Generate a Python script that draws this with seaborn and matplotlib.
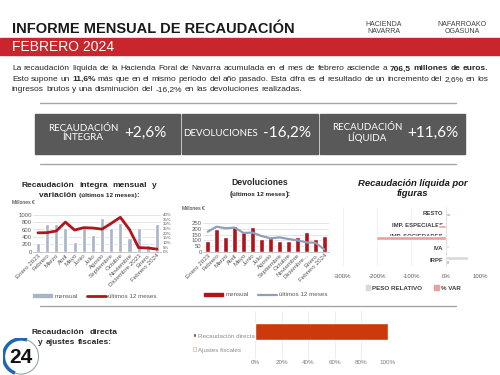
import numpy as np
import pandas as pd
import matplotlib
matplotlib.use("Agg")
import matplotlib.pyplot as plt
import seaborn as sns
from matplotlib.patches import Rectangle, Arc
from matplotlib.lines import Line2D
from matplotlib.ticker import FuncFormatter

meses = ["Enero 2023", "Febrero", "Marzo", "Abril", "Mayo", "Junio", "Julio", "Agosto",
         "Septiembre", "Octubre", "Noviembre", "Diciembre 2023", "Enero", "Febrero 2024"]
meses_devol = ["Enero 2023", "Febrero", "Marzo", "Abril", "Mayo", "Junio", "Julio", "Agosto",
               "Septiembre", "Octubre", "Noviembre", "Diciembre...", "Enero", "Febrero 2024"]
integra_mensual = [225, 745, 760, 630, 260, 655, 440, 900, 650, 780, 360, 630, 190, 760]
integra_var12 = [20.4, 20.6, 22.4, 32.0, 23.4, 26.0, 25.6, 24.4, 30.6, 37.2, 24.0, 4.4, 4.0, 2.8]
devol_mensual = [97, 197, 126, 229, 185, 220, 109, 120, 97, 91, 132, 176, 109, 138]
devol_12m = [176, 220, 206, 212, 165, 168, 138, 118, 126, 112, 100, 82, 79, 20]

figuras = ["RESTO", "IMP. ESPECIALES", "IMP. SOCIEDADES", "IVA", "IRPF"]
peso_relativo = [3, 3, 2, 10, 66]
var_figuras = [13, -21, -204, 1, 11]

componentes = ["Recaudación directa", "Ajustes fiscales"]
proporcion = [1.0, 0.0]

indicadores = ["RECAUDACIÓN\nÍNTEGRA", "DEVOLUCIONES", "RECAUDACIÓN\nLÍQUIDA"]
variaciones = ["+2,6%", "-16,2%", "+11,6%"]

# --- ESTILO ---
sns.set_theme(style="white")
plt.rcParams["font.family"] = ["Liberation Sans", "DejaVu Sans"]

rojo_banda = "#c8252c"
gris_caja = "#595959"
gris_texto = "#595959"
gris_barra = "#a9b4c8"
rojo_linea = "#b0151e"
rojo_barra = "#b3121a"
gris_linea = "#8ea0b8"
gris_peso = "#d9d9d9"
rosa_var = "#e8a0a0"
naranja = "#cc3a0c"

W, H = 500, 375
fig = plt.figure(figsize=(5, 3.75), dpi=100)
renderer = fig.canvas.get_renderer()


def fx(x):
    return x / W


def fy(y):
    return 1 - y / H


def caja(x0, y0, x1, y1):
    return [x0 / W, 1 - y1 / H, (x1 - x0) / W, (y1 - y0) / H]


def linea(y, trozos, x0, x1, size, color="#262626", justificar=True):
    # coloca palabra a palabra para poder justificar y mezclar negrita
    palabras = []
    for texto, negrita in trozos:
        for p in texto.split():
            palabras.append((p, negrita))
    objs = [fig.text(0, fy(y), p, fontsize=size, fontweight="bold" if n else "normal",
                     color=color, va="center", ha="left") for p, n in palabras]
    anchos = [t.get_window_extent(renderer).width for t in objs]
    natural = size * 100 / 72 * 0.28
    esp = (x1 - x0 - sum(anchos)) / max(len(objs) - 1, 1) if justificar else natural
    esp = max(esp, natural * 0.6)
    x = x0
    for t, a in zip(objs, anchos):
        t.set_x(fx(x))
        x += a + esp


def segmentos(y, partes, cx, color="#262626"):
    objs = [fig.text(0, fy(y), txt, fontsize=s, fontweight="bold", color=color,
                     va="baseline", ha="left") for txt, s in partes]
    anchos = [t.get_window_extent(renderer).width for t in objs]
    x = cx - sum(anchos) / 2
    for t, a in zip(objs, anchos):
        t.set_x(fx(x))
        x += a


# --- CABECERA ---
fig.text(fx(12), fy(29), "INFORME MENSUAL DE RECAUDACIÓN", fontsize=10.5,
         fontweight="bold", color="#1a1a1a", va="center")
fig.add_artist(Rectangle((0, fy(55)), 1, 17 / H, transform=fig.transFigure,
                         color=rojo_banda, zorder=0))
fig.text(fx(12), fy(47), "FEBRERO 2024", fontsize=10, color="white", va="center")
fig.text(fx(384), fy(28), "HACIENDA\nNAVARRA", fontsize=5, color="#404040",
         ha="center", va="center", linespacing=0.95)
fig.text(fx(462), fy(28), "NAFARROAKO\nOGASUNA", fontsize=5, color="#404040",
         ha="center", va="center", linespacing=0.95)

cuerpo = 6.0
linea(69, [("La recaudación líquida de la Hacienda Foral de Navarra acumulada en el mes de febrero asciende a", False),
           ("706,5 millones de euros.", True)], 12, 488, cuerpo)
linea(79.5, [("Esto supone un", False), ("11,6%", True),
             ("más que en el mismo periodo del año pasado. Esta cifra es el resultado de un incremento del 2,6% en los", False)],
      12, 488, cuerpo)
linea(89.5, [("ingresos brutos y una disminución del -16,2% en las devoluciones realizadas.", False)],
      12, 488, cuerpo, justificar=False)

for yr in [103, 164, 306]:
    fig.add_artist(Line2D([fx(40), fx(456)], [fy(yr)] * 2, color="#a6a6a6", lw=1.0))

# --- CAJAS DE INDICADORES ---
limites = [(35, 180), (182, 318), (320, 465)]
pos_rotulo = [83, 221, 367]
pos_valor = [145, 287, 433]
for (a, b), rot, val, xr, xv in zip(limites, indicadores, variaciones, pos_rotulo, pos_valor):
    fig.add_artist(Rectangle((fx(a), fy(154)), (b - a) / W, 40 / H,
                             transform=fig.transFigure, color=gris_caja))
    fig.text(fx(xr), fy(133), rot, fontsize=7, color="white", ha="center", va="center",
             family=["Lato", "DejaVu Sans"], linespacing=1.05)
    fig.text(fx(xv), fy(133), val, fontsize=11, color="white", ha="center", va="center",
             family=["Lato", "DejaVu Sans"])


def estilo_meses(ax, paso, tope):
    ax.set_ylim(0, tope)
    ax.set_yticks(np.arange(0, tope + 1, paso))
    ax.grid(axis="y", color="#d9d9d9", lw=0.5)
    for s in ["top", "right", "left"]:
        ax.spines[s].set_visible(False)
    ax.spines["bottom"].set_color("#bfbfbf")
    ax.spines["bottom"].set_linewidth(0.6)
    ax.tick_params(axis="both", length=0, pad=1, labelsize=4.3, labelcolor=gris_texto)
    ax.tick_params(axis="x", labelsize=4.5)
    for lbl in ax.get_xticklabels():
        lbl.set_rotation(45)
        lbl.set_ha("right")
        lbl.set_rotation_mode("anchor")
    ax.set_xlabel("")
    ax.set_ylabel("")
    ax.set_xlim(-0.5, len(meses) - 0.5)


# --- GRÁFICO 1: RECAUDACIÓN ÍNTEGRA ---
linea(185, [("Recaudación integra mensual y", True)], 21, 157, 6)
segmentos(197, [("variación ", 6), ("(últimos 12 meses)", 4.6), (":", 6)], 89)
fig.text(fx(12), fy(203), "Millones €", fontsize=3.6, color="#262626", va="center")

ax1 = fig.add_axes(caja(33.4, 214.7, 161.5, 251.7))
sns.barplot(x=meses, y=integra_mensual, ax=ax1, color=gris_barra, saturation=1, width=0.45)
estilo_meses(ax1, 200, 1000)
ax1b = ax1.twinx()
sns.lineplot(x=np.arange(len(meses)), y=integra_var12, ax=ax1b, color=rojo_linea, lw=2)
ax1b.set_ylim(0, 40)
ax1b.set_yticks(np.arange(0, 41, 5))
ax1b.yaxis.set_major_formatter(FuncFormatter(lambda v, _: f"{v:.0f}%"))
ax1b.tick_params(axis="y", length=0, pad=1, labelsize=3.2, labelcolor=gris_texto)
for s in ax1b.spines.values():
    s.set_visible(False)
ax1b.set_xlim(-0.5, len(meses) - 0.5)

h1 = [Rectangle((0, 0), 1, 1, color=gris_barra), Line2D([], [], color=rojo_linea, lw=2)]
ax1.legend(h1, ["mensual", "últimos 12 meses"], loc="center", ncol=2, frameon=False,
           bbox_to_anchor=(fx(95), fy(296)), bbox_transform=fig.transFigure,
           fontsize=4.5, handlelength=3, handleheight=0.5, columnspacing=1.5,
           handletextpad=0.4, labelcolor=gris_texto)

# --- GRÁFICO 2: DEVOLUCIONES ---
segmentos(185, [("Devoluciones", 6.2)], 260)
segmentos(196, [("(", 5.8), ("últimos 12 meses", 4.6), ("):", 5.8)], 260)
fig.text(fx(182), fy(209), "Millones €", fontsize=3.6, color="#262626", va="center")

ax2 = fig.add_axes(caja(203.2, 223.3, 328.8, 251.7))
sns.barplot(x=meses_devol, y=devol_mensual, ax=ax2, color=rojo_barra, saturation=1, width=0.55)
sns.lineplot(x=np.arange(len(meses_devol)), y=devol_12m, ax=ax2, color=gris_linea, lw=1.6)
estilo_meses(ax2, 50, 250)

h2 = [Rectangle((0, 0), 1, 1, color=rojo_barra), Line2D([], [], color=gris_linea, lw=1.6)]
ax2.legend(h2, ["mensual", "últimos 12 meses"], loc="center", ncol=2, frameon=False,
           bbox_to_anchor=(fx(266), fy(295)), bbox_transform=fig.transFigure,
           fontsize=4.5, handlelength=3, handleheight=0.5, columnspacing=1.5,
           handletextpad=0.4, labelcolor=gris_texto)

# --- GRÁFICO 3: RECAUDACIÓN LÍQUIDA POR FIGURAS ---
fig.text(fx(413), fy(183), "Recaudación líquida por", fontsize=6.8, fontweight="bold",
         fontstyle="italic", ha="center", va="center", color="#1a1a1a")
fig.text(fx(412), fy(194), "figuras", fontsize=6.8, fontweight="bold",
         fontstyle="italic", ha="center", va="center", color="#1a1a1a")

df3 = pd.DataFrame({
    "figura": figuras * 2,
    "valor": peso_relativo + var_figuras,
    "serie": ["PESO RELATIVO"] * len(figuras) + ["% VAR"] * len(figuras),
})
ax3 = fig.add_axes(caja(342.7, 206.8, 480, 265.9))
sns.barplot(data=df3, y="figura", x="valor", hue="serie", orient="h", ax=ax3,
            palette=[gris_peso, rosa_var], saturation=1, width=0.6, legend=False)
ax3.set_xlim(-300, 100)
ax3.set_xticks(np.arange(-300, 101, 100))
ax3.xaxis.set_major_formatter(FuncFormatter(lambda v, _: f"{v:.0f}%"))
ax3.grid(axis="x", color="#ececec", lw=0.5)
for s in ["top", "right", "bottom"]:
    ax3.spines[s].set_visible(False)
ax3.spines["left"].set_position(("data", 0))
ax3.spines["left"].set_color("#d9d9d9")
ax3.spines["left"].set_linewidth(0.5)
ax3.tick_params(axis="both", length=0, labelsize=4.3, labelcolor=gris_texto)
ax3.tick_params(axis="x", pad=6)
ax3.tick_params(axis="y", pad=2, labelcolor="#404040")
for lbl in ax3.get_yticklabels():
    lbl.set_fontweight("bold")
ax3.set_xlabel("")
ax3.set_ylabel("")

h3 = [Rectangle((0, 0), 1, 1, color=gris_peso), Rectangle((0, 0), 1, 1, color=rosa_var)]
leg3 = ax3.legend(h3, ["PESO RELATIVO", "% VAR"], loc="center", ncol=2, frameon=False,
                  bbox_to_anchor=(fx(413), fy(288)), bbox_transform=fig.transFigure,
                  fontsize=4.5, handlelength=0.7, handleheight=0.7, columnspacing=2,
                  handletextpad=0.3)
for t in leg3.get_texts():
    t.set_fontweight("bold")
    t.set_color("#404040")

# --- RECAUDACIÓN DIRECTA Y AJUSTES FISCALES ---
linea(332, [("Recaudación directa", True)], 32, 118, 6)
linea(343, [("y ajustes fiscales:", True)], 38, 112, 6)

ax4 = fig.add_axes(caja(255, 311, 388, 359))
total = [sum(proporcion)]
sns.barplot(x=total, y=[0], orient="h", ax=ax4, color="#f6d5cc", saturation=1, width=1.0)
sns.barplot(x=[proporcion[0]], y=[0], orient="h", ax=ax4, color=naranja, saturation=1, width=1.0)
ax4.set_xlim(0, 1.0)
ax4.set_ylim(1.6, -1.2)
ax4.set_xticks(np.arange(0, 1.01, 0.2))
ax4.xaxis.set_major_formatter(FuncFormatter(lambda v, _: f"{v * 100:.0f}%"))
ax4.set_yticks([])
ax4.grid(axis="x", color="#e6e6e6", lw=0.5)
for s in ax4.spines.values():
    s.set_visible(False)
ax4.tick_params(axis="x", length=0, pad=1, labelsize=4.5, labelcolor="#7f7f7f")
ax4.set_xlabel("")
ax4.set_ylabel("")

h4 = [Rectangle((0, 0), 1, 1, facecolor="#8b2a0a"),
      Rectangle((0, 0), 1, 1, facecolor="white", edgecolor="#e6b0a0", lw=0.5)]
ax4.legend(h4, componentes, loc="center left", frameon=False,
           bbox_to_anchor=(fx(187), fy(343)), bbox_transform=fig.transFigure,
           fontsize=4.5, handlelength=0.6, handleheight=0.6, handletextpad=0.3,
           labelspacing=1.4, labelcolor="#8c8c8c")

# --- SELLO "24" ---
axl = fig.add_axes(caja(2, 338, 40, 375))
axl.set_xlim(0, 1)
axl.set_ylim(0, 1)
axl.set_aspect("equal")
axl.axis("off")
axl.add_patch(Arc((0.5, 0.5), 0.95, 0.95, theta1=70, theta2=250, color="#1f66b3", lw=2.5))
axl.add_patch(Arc((0.5, 0.5), 0.95, 0.95, theta1=250, theta2=70, color="#9aa3ad", lw=0.8))
axl.text(0.5, 0.47, "24", fontsize=15, fontweight="bold", ha="center", va="center",
         color="#111111")

fig.savefig("out.png", dpi=100)
